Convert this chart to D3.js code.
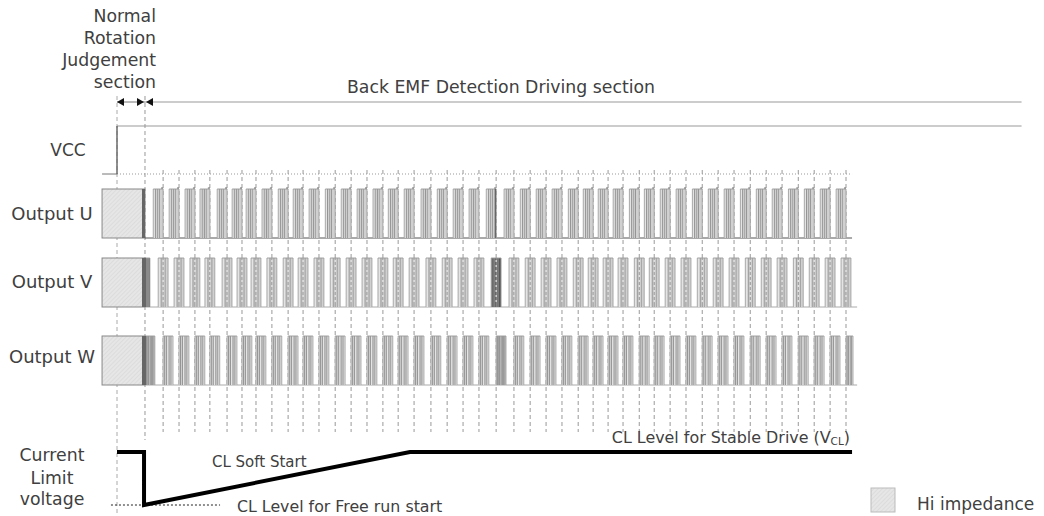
<!DOCTYPE html>
<html><head><meta charset="utf-8">
<script src="https://cdn.jsdelivr.net/npm/d3@7"></script>
<style>
html,body{margin:0;padding:0;background:#fff;}
svg{display:block;font-family:"DejaVu Sans",Verdana,sans-serif;}
</style></head>
<body><svg id="chart" width="1044" height="516"></svg>
<script>
// ---- data (time in ms-like units) ----
const commutationTimes = [8.8, 14.5, 19.5, 24.5, 29.2, 34.6, 39.3, 43.7, 48.7, 53.8, 58.5, 63.5, 68.6, 73.6, 78.6, 83.6, 88.4, 93.4, 98.7, 103.8, 108.8, 113.8, 119.2, 124.8, 129.9, 134.9, 139.9, 145.0, 149.7, 154.4, 159.1, 164.2, 168.9, 173.9, 178.9, 184.0, 189.0, 194.0, 199.1, 204.1, 209.1, 214.2, 219.2, 224.2, 229.2];
const vccOnTime = 0;
const bemfStartTime = 8.8;
const hiZStartTime = -4.7;
const timelineEnd = 284.4;
const traceEndU = 231.1;
const traceEndVW = 232.7;
const pwmGroupWidth = 3.1;
const phases = ["U", "V", "W"];
const phaseAlign = [-1, -0.5, 0];           // group ends at / centred on / starts at commutation
const pwmEdgesU = [0, 0.22, 0.45, 0.62, 1];
const pwmEdgesV = [0, 0.3, 0.5, 0.7, 1];
const pwmEdgesW = [0, 0.15, 0.35, 0.6, 0.8, 1];
const darkCommutations = [0, 22];
const clTimes = [0, 8.5, 8.5, 92.1, 231.1];
const clLevels = [1, 1, 0, 1, 1];             // 0 = free-run start level, 1 = stable VCL
const freeRunDottedTimes = [-1.9, 32.4];
const rowLabels = ["VCC", "Output U", "Output V", "Output W"];
const clLabelLines = ["Current", "Limit", "voltage"];
const titleLines = ["Normal", "Rotation", "Judgement", "section"];

// ---- layout ----
const svg = d3.select("#chart");
const x = d3.scaleLinear().domain([0, 229.2]).range([117, 846]);
const yCL = d3.scaleLinear().domain([0, 1]).range([505, 452]);
const rowTop = d3.scaleOrdinal().domain(phases).range([189, 258, 336]);
const rowH = 49;
const textCol = "#404040";

// hatch pattern
const defs = svg.append("defs");
const pat = defs.append("pattern").attr("id", "hatch").attr("patternUnits", "userSpaceOnUse")
  .attr("width", 3).attr("height", 3).attr("patternTransform", "rotate(45)");
pat.append("rect").attr("width", 3).attr("height", 3).attr("fill", "#e6e6e6");
pat.append("line").attr("x1", 0).attr("y1", 0).attr("x2", 0).attr("y2", 3).attr("stroke", "#d2d2d2").attr("stroke-width", 1);

// ---- title texts ----
svg.append("g").selectAll("text").data(titleLines).join("text")
  .attr("x", 156).attr("y", (d, i) => 22 + i * 22).attr("text-anchor", "end")
  .attr("font-size", 17.3).attr("fill", textCol).text(d => d);

svg.append("text").attr("x", 501).attr("y", 93).attr("text-anchor", "middle")
  .attr("font-size", 17.3).attr("fill", textCol).text("Back EMF Detection Driving section");

// ---- section arrows ----
const ay = 102;
svg.append("line").attr("x1", x(vccOnTime)).attr("x2", x(bemfStartTime)).attr("y1", ay).attr("y2", ay)
  .attr("stroke", "#777").attr("stroke-width", 1);
svg.append("line").attr("x1", x(bemfStartTime)).attr("x2", x(timelineEnd)).attr("y1", ay).attr("y2", ay)
  .attr("stroke", "#999").attr("stroke-width", 1);
function arrowHead(tipX, dir) {
  svg.append("path").attr("d", `M${tipX},${ay} L${tipX - dir * 7},${ay - 4} L${tipX - dir * 7},${ay + 4} Z`).attr("fill", "#111");
}
arrowHead(x(vccOnTime), -1);
arrowHead(x(bemfStartTime) - 1, 1);
arrowHead(x(bemfStartTime) + 1, -1);

// ---- vertical dashed lines ----
svg.append("line").attr("x1", x(vccOnTime)).attr("x2", x(vccOnTime)).attr("y1", 96).attr("y2", 516)
  .attr("stroke", "#aaa").attr("stroke-dasharray", "4,3");
svg.append("line").attr("x1", x(bemfStartTime)).attr("x2", x(bemfStartTime)).attr("y1", 96).attr("y2", 440)
  .attr("stroke", "#999").attr("stroke-dasharray", "4,3");

// ---- VCC ----
svg.append("line").attr("x1", x(hiZStartTime)).attr("x2", x(vccOnTime)).attr("y1", 174).attr("y2", 174).attr("stroke", "#777");
svg.append("line").attr("x1", x(vccOnTime)).attr("x2", x(traceEndU)).attr("y1", 174).attr("y2", 174)
  .attr("stroke", "#999").attr("stroke-dasharray", "1,2");
svg.append("path").attr("d", `M${x(vccOnTime)},174 V126 H${x(timelineEnd)}`).attr("fill", "none")
  .attr("stroke", "#999").attr("stroke-width", 1);
svg.append("line").attr("x1", x(vccOnTime)).attr("x2", x(vccOnTime)).attr("y1", 174).attr("y2", 126).attr("stroke", "#555");

// ---- Hi-Z boxes ----
phases.forEach(p => {
  svg.append("rect").attr("x", x(hiZStartTime)).attr("y", rowTop(p))
    .attr("width", x(bemfStartTime) - x(hiZStartTime)).attr("height", rowH)
    .attr("fill", "url(#hatch)").attr("stroke", "#888").attr("stroke-width", 1);
});

// ---- baselines ----
svg.append("line").attr("x1", x(bemfStartTime)).attr("x2", x(traceEndU)).attr("y1", rowTop("U") + rowH).attr("y2", rowTop("U") + rowH).attr("stroke", "#555");
["V", "W"].forEach(p => svg.append("line").attr("x1", x(bemfStartTime)).attr("x2", x(traceEndVW))
  .attr("y1", rowTop(p) + rowH).attr("y2", rowTop(p) + rowH).attr("stroke", "#aaa"));

// ---- periodic dashed lines ----
const dashG = svg.append("g");
dashG.selectAll("line").data(commutationTimes.slice(1)).join("line")
  .attr("x1", d => x(d)).attr("x2", d => x(d)).attr("y1", 170).attr("y2", 432)
  .attr("stroke", "#999").attr("stroke-dasharray", "4,3");

// ---- PWM groups ----
const edgeSets = [pwmEdgesU, pwmEdgesV, pwmEdgesW];
phases.forEach((p, pi) => {
  const g = svg.append("g");
  commutationTimes.forEach((t, k) => {
    if (p === "U" && k === 0) return;
    let t0 = t + phaseAlign[pi] * pwmGroupWidth;
    let t1 = t0 + pwmGroupWidth;
    if (t0 < bemfStartTime) t0 = bemfStartTime;
    if (p !== "U") t1 = Math.min(t1, traceEndU + 0.3);
    const x0 = x(t0), x1 = x(t1), w = x1 - x0;
    const top = rowTop(p), bot = top + rowH;
    const dark = darkCommutations.includes(k);
    const edges = edgeSets[pi];
    for (let s = 0; s < edges.length - 1; s++) {
      let col = s % 2 === 0 ? "#e4e4e4" : "#d0d0d0";
      if (dark && p === "V") col = s % 2 === 0 ? "#6a6a6a" : "#555";
      if (dark && p === "W") col = s % 2 === 0 ? "#b8b8b8" : "#a4a4a4";
      g.append("rect").attr("x", x0 + edges[s] * w).attr("y", top)
        .attr("width", (edges[s + 1] - edges[s]) * w).attr("height", rowH).attr("fill", col);
    }
    edges.forEach((e, ei) => {
      g.append("line").attr("x1", x0 + e * w).attr("x2", x0 + e * w).attr("y1", top).attr("y2", bot)
        .attr("stroke", (ei === 0 || ei === edges.length - 1) ? "#a0a0a0" : "#8c8c8c").attr("stroke-width", 0.9);
    });
    g.append("line").attr("x1", x0).attr("x2", x1).attr("y1", top).attr("y2", top).attr("stroke", "#999").attr("stroke-width", 0.9);
    if (p === "U") {
      g.append("line").attr("x1", x1 - 2).attr("x2", x1).attr("y1", top - 1).attr("y2", top - 1).attr("stroke", "#666").attr("stroke-width", 1);
      if (dark) g.append("rect").attr("x", x1 - 1.5).attr("y", top).attr("width", 1.5).attr("height", rowH).attr("fill", "#666");
    }
  });
  // dashed line overlay on centred V groups
  if (p === "V") {
    g.selectAll(".vd").data(commutationTimes.slice(1)).join("line")
      .attr("x1", d => x(d)).attr("x2", d => x(d)).attr("y1", rowTop(p) + 2).attr("y2", rowTop(p) + rowH - 2)
      .attr("stroke", "#f4f4f4").attr("stroke-dasharray", "2,3");
  }
});
// dark strip at end of Hi-Z
phases.forEach(p => svg.append("rect").attr("x", x(bemfStartTime) - 3).attr("y", rowTop(p))
  .attr("width", p === "U" ? 3 : 4).attr("height", rowH).attr("fill", "#666"));

// ---- row labels ----
const labelPos = [[68, 156], [52, 220], [52, 288], [52, 363]];
svg.append("g").selectAll("text").data(rowLabels).join("text")
  .attr("x", (d, i) => labelPos[i][0]).attr("y", (d, i) => labelPos[i][1]).attr("text-anchor", "middle")
  .attr("font-size", (d, i) => i === 0 ? 17 : 18).attr("fill", textCol).text(d => d);
svg.append("g").selectAll("text").data(clLabelLines).join("text")
  .attr("x", 52).attr("y", (d, i) => [461, 484, 505][i]).attr("text-anchor", "middle")
  .attr("font-size", 17.3).attr("fill", textCol).text(d => d);

// ---- current limit ----
svg.append("line").attr("x1", x(freeRunDottedTimes[0])).attr("x2", x(freeRunDottedTimes[1]))
  .attr("y1", yCL(0)).attr("y2", yCL(0)).attr("stroke", "#222").attr("stroke-dasharray", "2,2");
const clLine = d3.line().x((d, i) => x(clTimes[i])).y(d => yCL(d)).curve(d3.curveLinear);
svg.append("path").attr("d", clLine(clLevels)).attr("fill", "none").attr("stroke", "#000")
  .attr("stroke-width", 4).attr("stroke-linejoin", "miter").attr("stroke-linecap", "butt");

svg.append("text").attr("x", 212).attr("y", 467).attr("font-size", 15).attr("fill", textCol).text("CL Soft Start");
svg.append("text").attr("x", 237).attr("y", 512).attr("font-size", 15.8).attr("fill", textCol).text("CL Level for Free run start");
const st = svg.append("text").attr("x", 850).attr("y", 443).attr("text-anchor", "end").attr("font-size", 15.9).attr("fill", textCol);
st.append("tspan").text("CL Level for Stable Drive (V");
st.append("tspan").attr("font-size", 10.5).attr("dy", 2).text("CL");
st.append("tspan").attr("dy", -2).text(")");

// ---- legend ----
svg.append("rect").attr("x", 871).attr("y", 488).attr("width", 24).attr("height", 24)
  .attr("fill", "url(#hatch)").attr("stroke", "#bbb");
svg.append("text").attr("x", 917).attr("y", 510).attr("font-size", 17).attr("fill", textCol).text("Hi impedance");
</script></body></html>
